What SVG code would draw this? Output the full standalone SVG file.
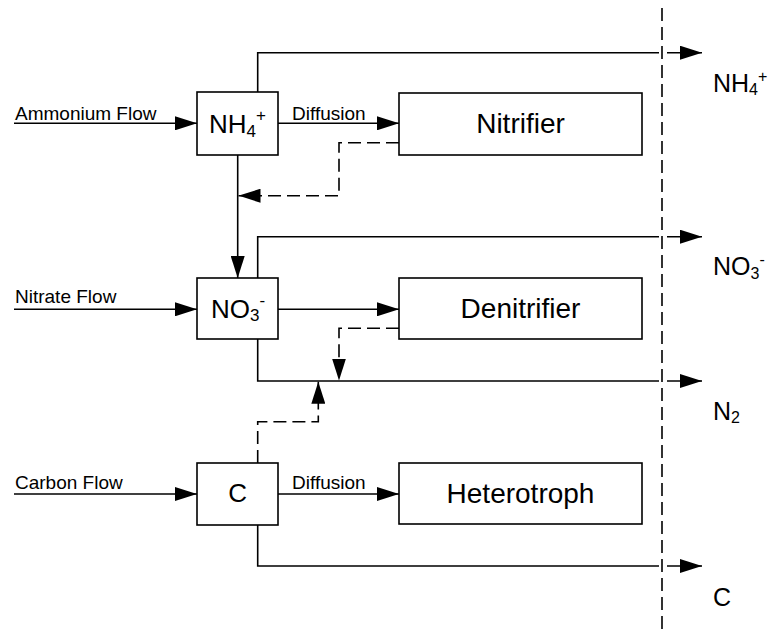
<svg xmlns="http://www.w3.org/2000/svg" width="770" height="635" viewBox="0 0 770 635">
<style>
  .box { fill: #fff; stroke: #000; stroke-width: 1.6; }
  .ln { fill: none; stroke: #000; stroke-width: 1.6; }
  .dash { fill: none; stroke: #000; stroke-width: 1.6; stroke-dasharray: 13 6; }
  .arr { marker-end: url(#ah); }
  text { font-family: "Liberation Sans", Arial, sans-serif; fill: #000; }
  .small { font-size: 19px; }
  .big { font-size: 28px; }
  .chem { font-size: 26px; }
  .out { font-size: 25px; }
</style>
<defs>
  <marker id="ah" markerUnits="userSpaceOnUse" markerWidth="22" markerHeight="14" refX="22" refY="7" orient="auto">
    <path d="M0,0 L22,7 L0,14 z" fill="#000"/>
  </marker>
</defs>
<rect width="770" height="635" fill="#fff"/>

<g id="boundary">
  <line class="dash" x1="662" y1="8" x2="662" y2="635"/>
</g>

<g id="connectors">
  <!-- inflows -->
  <line class="ln arr" x1="14" y1="123.3" x2="197" y2="123.3"/>
  <line class="ln arr" x1="14" y1="309.3" x2="197" y2="309.3"/>
  <line class="ln arr" x1="14" y1="494" x2="197" y2="494"/>
  <!-- diffusion arrows -->
  <line class="ln arr" x1="278" y1="123.3" x2="399" y2="123.3"/>
  <line class="ln arr" x1="278" y1="309.3" x2="399" y2="309.3"/>
  <line class="ln arr" x1="278" y1="494" x2="399" y2="494"/>
  <!-- NH4 to NO3 -->
  <line class="ln arr" x1="237.7" y1="155" x2="237.7" y2="278"/>
  <!-- outflows -->
  <polyline class="ln" points="257.7,92 257.7,52.7 659,52.7"/>
  <line class="ln arr" x1="667" y1="52.7" x2="702" y2="52.7"/>
  <polyline class="ln" points="257.7,278 257.7,236.7 659,236.7"/>
  <line class="ln arr" x1="667" y1="236.7" x2="702" y2="236.7"/>
  <polyline class="ln" points="257.7,339 257.7,381 659,381"/>
  <line class="ln arr" x1="667" y1="381" x2="702" y2="381"/>
  <polyline class="ln" points="257.7,525 257.7,566 659,566"/>
  <line class="ln arr" x1="667" y1="566" x2="702" y2="566"/>
  <!-- dashed feedbacks -->
  <polyline class="dash arr" points="399,142.7 339,142.7 339,195.7 238.5,195.7"/>
  <polyline class="dash arr" points="399,328.3 339,328.3 339,380.5"/>
  <polyline class="dash arr" points="257.7,463 257.7,421.7 318.3,421.7 318.3,381.8"/>
</g>

<g id="flow-labels">
  <text class="small" x="15" y="120">Ammonium Flow</text>
  <text class="small" x="15" y="303.3">Nitrate Flow</text>
  <text class="small" x="15" y="489.3">Carbon Flow</text>
  <text class="small" x="292" y="120">Diffusion</text>
  <text class="small" x="292" y="489.3">Diffusion</text>
</g>

<g id="node-nh4">
  <rect class="box" x="197" y="92" width="81" height="63"/>
  <text class="chem" x="209" y="132.7">NH<tspan font-size="17" dy="3.8">4</tspan><tspan font-size="17" dy="-15.5">+</tspan></text>
</g>
<g id="node-no3">
  <rect class="box" x="197" y="278" width="81" height="61"/>
  <text class="chem" x="211" y="317.7">NO<tspan font-size="17" dy="3.5">3</tspan><tspan font-size="17" dy="-15.5">-</tspan></text>
</g>
<g id="node-c">
  <rect class="box" x="197" y="463" width="81" height="62"/>
  <text class="chem" x="237.7" y="502.3" text-anchor="middle">C</text>
</g>
<g id="node-nitrifier">
  <rect class="box" x="399" y="93" width="243" height="62"/>
  <text class="big" x="520.5" y="133" text-anchor="middle">Nitrifier</text>
</g>
<g id="node-denitrifier">
  <rect class="box" x="399" y="278" width="243" height="61"/>
  <text class="big" x="520.5" y="318.3" text-anchor="middle">Denitrifier</text>
</g>
<g id="node-heterotroph">
  <rect class="box" x="399" y="463" width="243" height="61"/>
  <text class="big" x="520.5" y="502.7" text-anchor="middle">Heterotroph</text>
</g>

<g id="outputs">
  <text class="out" x="713" y="91.7">NH<tspan font-size="16" dy="3.5">4</tspan><tspan font-size="16" dy="-13">+</tspan></text>
  <text class="out" x="713" y="275">NO<tspan font-size="16" dy="4">3</tspan><tspan font-size="16" dy="-14">-</tspan></text>
  <text class="out" x="713" y="420">N<tspan font-size="16" dy="3.3">2</tspan></text>
  <text class="out" x="713" y="605.7">C</text>
</g>
</svg>
